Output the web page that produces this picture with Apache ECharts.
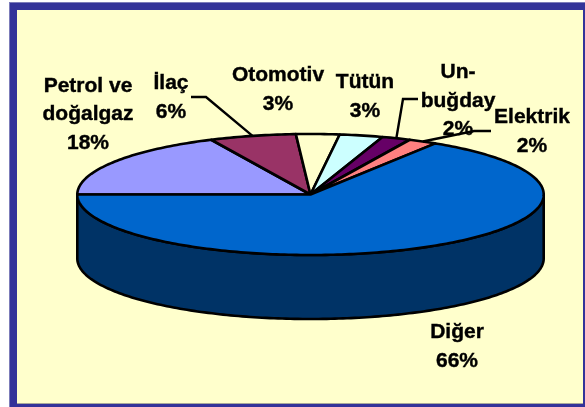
<!DOCTYPE html>
<html>
<head>
<meta charset="utf-8">
<script src="https://cdn.jsdelivr.net/npm/echarts@6/dist/echarts.min.js"></script>
<style>
html, body { margin: 0; padding: 0; background: #fff; }
#chart { width: 585px; height: 407px; }
</style>
</head>
<body>
<div id="chart"></div>
<script>
// clockwise, the first slice starts on the left side of the pie
var names = ['Petrol ve\ndoğalgaz', 'İlaç', 'Otomotiv', 'Tütün', 'Un-\nbuğday', 'Elektrik', 'Diğer'];
var values = [18, 6, 3, 3, 2, 2, 66];
var colors = ['#9999FF', '#993366', '#FFFFCC', '#CCFFFF', '#660066', '#FF8080', '#0066CC'];
var sideColors = ['#4C4C80', '#4C1933', '#808066', '#668080', '#330033', '#804040', '#003366'];

// label centres, and the elbow of the leader line where there is one
var labelX = [88, 171, 278, 365, 458, 532, 457];
var labelY = [114.5, 97.5, 89.5, 96.5, 101, 131.5, 347];
var elbows = [null, [[191, 97], [206, 97]], null, null, [[418, 99], [403, 99]], [[491, 131], [474, 131]], null];

var cx = 310.5, cy = 194.5, rx = 233.2, ry = 60.5, depth = 64;
var startAngle = 270;

var total = values.reduce(function (a, b) { return a + b; }, 0);
var data = [];
var sum = 0;
values.forEach(function (v, i) {
	data.push({ name: names[i], value: [v, sum] });
	sum += v;
});

function pt(deg, dy) {
	var t = deg * Math.PI / 180;
	return [cx + rx * Math.sin(t), cy + (dy || 0) - ry * Math.cos(t)];
}

function arc(from, to, dy) {
	var out = [];
	for (var a = from; a < to; a += 1) out.push(pt(a, dy));
	out.push(pt(to, dy));
	return out;
}

// part of the slice that lies on the front of the pie (90..270, also one turn on)
function wall(from, to, color) {
	var res = [];
	[0, 360].forEach(function (off) {
		var a = Math.max(from, 90 + off), b = Math.min(to, 270 + off);
		if (b <= a) return;
		res.push({
			type: 'polygon',
			shape: { points: arc(a, b, 0).concat(arc(a, b, depth).reverse()) },
			style: { fill: color, stroke: '#000', lineWidth: 2.6, lineJoin: 'round' }
		});
	});
	return res;
}

function renderSlice(params, api) {
	var i = params.dataIndex;
	var from = startAngle + api.value(1) / total * 360;
	var to = from + api.value(0) / total * 360;
	var mid = (from + to) / 2;

	var children = wall(from, to, sideColors[i]);
	children.push({
		type: 'polygon',
		shape: { points: [[cx, cy]].concat(arc(from, to, 0)) },
		style: { fill: colors[i], stroke: '#000', lineWidth: 2.6, lineJoin: 'round' }
	});
	if (elbows[i]) {
		children.push({
			type: 'polyline',
			shape: { points: elbows[i].concat([pt(mid, 0)]) },
			style: { fill: 'none', stroke: '#000', lineWidth: 2.4 }
		});
	}
	children.push({
		type: 'text',
		style: {
			text: names[i] + '\n' + api.value(0) + '%',
			x: labelX[i],
			y: labelY[i],
			align: 'center',
			verticalAlign: 'middle',
			fill: '#000',
			stroke: '#000',
			lineWidth: 0.4,
			font: 'bold 21px "Liberation Sans", Arial, sans-serif',
			lineHeight: 28.7
		}
	});
	return { type: 'group', children: children };
}

var myChart = echarts.init(document.getElementById('chart'), null, { renderer: 'canvas' });
var option = {
	animation: false,
	backgroundColor: '#fff',
	graphic: {
		elements: [
			{ type: 'rect', z: 0, shape: { x: 9, y: 2, width: 576, height: 405 }, style: { fill: '#7C7CBA' } },
			{ type: 'rect', z: 1, shape: { x: 10, y: 3, width: 575, height: 404 }, style: { fill: '#333399' } },
			{ type: 'rect', z: 2, shape: { x: 17, y: 10, width: 566, height: 394 }, style: { fill: '#A8A89A' } },
			{ type: 'rect', z: 3, shape: { x: 17, y: 10, width: 566, height: 393 }, style: { fill: '#FFFFCC' } }
		]
	},
	series: [
		{
			type: 'custom',
			coordinateSystem: 'none',
			z: 10,
			renderItem: renderSlice,
			data: data
		}
	]
};
myChart.setOption(option);
</script>
</body>
</html>
